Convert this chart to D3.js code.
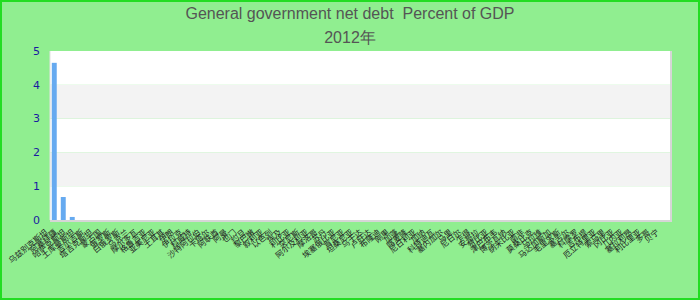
<!DOCTYPE html>
<html>
<head>
<meta charset="utf-8">
<script src="https://cdn.jsdelivr.net/npm/d3@7"></script>
<style>
  body { margin: 0; padding: 0; }
  svg { display: block; }
</style>
</head>
<body>
<div id="chart"></div>
<script>
// categories (country names) and values
const countries = [
  "乌兹别克斯坦", "阿塞拜疆", "哈萨克斯坦", "土库曼斯坦", "吉尔吉斯", "塔吉克斯坦", "蒙古国", "俄罗斯",
  "白俄罗斯", "乌克兰", "摩尔多瓦", "格鲁吉亚", "亚美尼亚", "土耳其", "伊朗", "伊拉克",
  "科威特", "沙特阿拉伯", "卡塔尔", "阿联酋", "阿曼", "也门", "约旦", "黎巴嫩",
  "叙利亚", "以色列", "埃及", "利比亚", "突尼斯", "阿尔及利亚", "摩洛哥", "苏丹",
  "埃塞俄比亚", "肯尼亚", "坦桑尼亚", "乌干达", "卢旺达", "布隆迪", "刚果", "加蓬",
  "喀麦隆", "尼日利亚", "加纳", "科特迪瓦", "塞内加尔", "马里", "尼日尔", "乍得",
  "安哥拉", "赞比亚", "津巴布韦", "博茨瓦纳", "纳米比亚", "南非", "莫桑比克", "马拉维",
  "马达加斯加", "毛里求斯", "塞舌尔", "科摩罗", "吉布提", "厄立特里亚", "索马里", "冈比亚",
  "几内亚", "塞拉利昂", "利比里亚", "多哥", "贝宁"
];
const values = [4.65, 0.68, 0.09];
while (values.length < countries.length) values.push(0);

const yTicks = [0, 1, 2, 3, 4, 5];
const titleText = "General government net debt  Percent of GDP";
const subText = "2012年";

const width = 700, height = 300;
const margin = { top: 51, right: 30, bottom: 80, left: 50 };

const svg = d3.select("#chart")
  .append("svg")
  .attr("width", width)
  .attr("height", height);

// background + border
svg.append("rect")
  .attr("x", 1).attr("y", 1)
  .attr("width", width - 2).attr("height", height - 2)
  .attr("fill", "#90ee90")
  .attr("stroke", "#22dd22")
  .attr("stroke-width", 2);

const x = d3.scaleBand()
  .domain(countries)
  .range([margin.left, width - margin.right])
  .paddingInner(0.45)
  .paddingOuter(0.2);

const y = d3.scaleLinear()
  .domain([0, 5])
  .range([height - margin.bottom, margin.top]);

// alternating split areas
for (let i = 0; i < yTicks.length - 1; i++) {
  svg.append("rect")
    .attr("x", margin.left)
    .attr("y", y(yTicks[i + 1]))
    .attr("width", width - margin.right - margin.left)
    .attr("height", y(yTicks[i]) - y(yTicks[i + 1]))
    .attr("fill", i % 2 === 0 ? "#ffffff" : "#f3f3f3");
}

// plot border (right + bottom)
svg.append("path")
  .attr("d", `M${margin.left},${y(0) + 1}H${width - margin.right + 1}V${y(5)}`)
  .attr("fill", "none")
  .attr("stroke", "#d6d6d6")
  .attr("stroke-width", 2);
svg.append("line")
  .attr("x1", margin.left).attr("x2", margin.left)
  .attr("y1", y(5)).attr("y2", y(0))
  .attr("stroke", "#e2e2e2");

// bars
svg.selectAll("rect.bar")
  .data(countries)
  .enter()
  .append("rect")
  .attr("class", "bar")
  .attr("x", d => x(d))
  .attr("y", (d, i) => y(values[i]))
  .attr("width", x.bandwidth())
  .attr("height", (d, i) => y(0) - y(values[i]))
  .attr("fill", "#66aaf0");

// y axis labels
svg.selectAll("text.ylab")
  .data(yTicks)
  .enter()
  .append("text")
  .attr("class", "ylab")
  .attr("x", 40)
  .attr("y", d => y(d))
  .attr("dy", "0.35em")
  .attr("text-anchor", "end")
  .style("font-family", "DejaVu Sans, sans-serif")
  .style("font-size", "11px")
  .attr("fill", "#1a1aa0")
  .text(d => d);

// x axis labels, rotated
svg.selectAll("text.xlab")
  .data(countries)
  .enter()
  .append("text")
  .attr("class", "xlab")
  .attr("transform", d => `translate(${x(d) + x.bandwidth() / 2 - 6},${y(0) + 13}) rotate(-40)`)
  .attr("text-anchor", "end")
  .style("font-family", "Noto Sans CJK SC, sans-serif")
  .style("font-size", "8px")
  .attr("fill", "#222")
  .text(d => d);

// titles
svg.append("text")
  .attr("x", width / 2)
  .attr("y", 19)
  .attr("text-anchor", "middle")
  .style("font-family", "Liberation Sans, Arial, sans-serif")
  .style("font-size", "16px")
  .style("white-space", "pre")
  .attr("fill", "#555")
  .text(titleText);

svg.append("text")
  .attr("x", width / 2)
  .attr("y", 43)
  .attr("text-anchor", "middle")
  .style("font-family", "Liberation Sans, Arial, sans-serif")
  .style("font-size", "16px")
  .attr("fill", "#555")
  .text(subText);
</script>
</body>
</html>
